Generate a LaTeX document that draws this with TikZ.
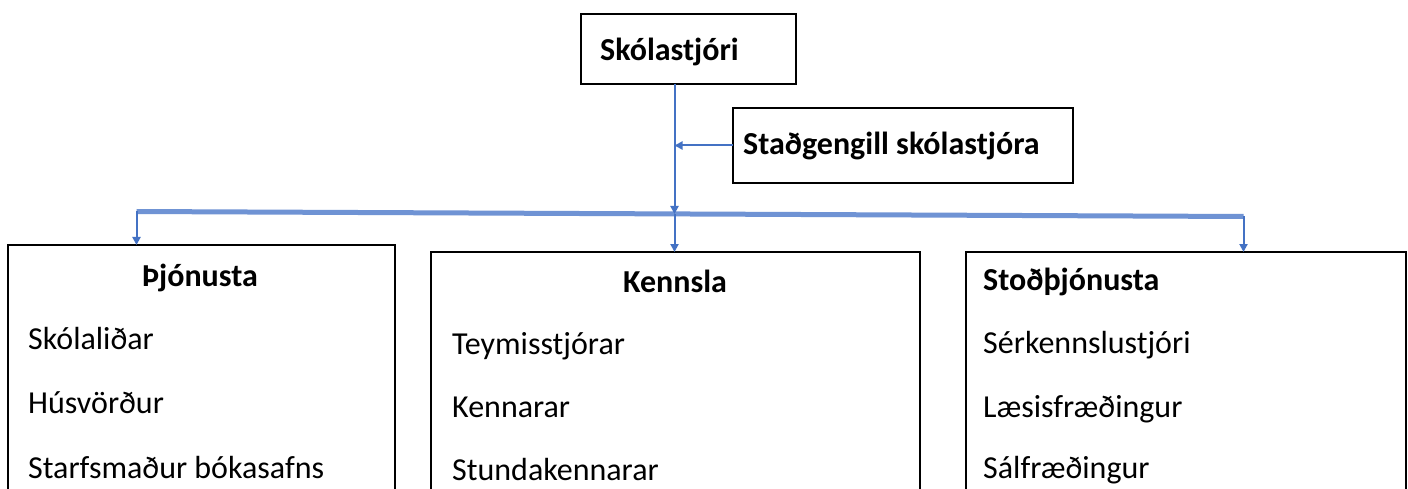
\documentclass[tikz,border=0pt]{standalone}
\usepackage{fontspec}
\setmainfont{Carlito}
\usetikzlibrary{arrows.meta}
\definecolor{connc}{HTML}{4472C4}
\definecolor{barc}{HTML}{6F93D4}
\begin{document}
\begin{tikzpicture}[x=1pt,y=-1pt,
  box/.style={draw=black, line width=1.6pt, rectangle, anchor=north west, inner sep=0pt, outer sep=0pt},
  title/.style={font=\fontsize{32}{38}\selectfont\bfseries, inner sep=0pt},
  item/.style={font=\fontsize{32}{38}\selectfont, anchor=base west, inner sep=0pt},
  conn/.style={draw=connc, line width=2pt, -{Triangle[length=8pt,width=8pt]}},
]
\clip (0,0) rectangle (1408,489);
\fill[white] (0,0) rectangle (1408,489);
% boxes
\node[box, minimum width=215pt, minimum height=70pt] (sko) at (581,14) {};
\node[box, minimum width=340pt, minimum height=75pt] (stad) at (733,108) {};
\node[box, minimum width=387pt, minimum height=300pt] (thj) at (8,245) {};
\node[box, minimum width=489pt, minimum height=300pt] (ken) at (431,252) {};
\node[box, minimum width=440pt, minimum height=300pt] (sto) at (966,252) {};
% texts
\node[title, anchor=base west] (skot) at (600,61) {Skólastjóri};
\node[title, anchor=base west] (stadt) at (743,155) {Staðgengill skólastjóra};
\node[title, anchor=base] (thjt) at (200,286) {Þjónusta};
\node[item] (thj1) at (28,349) {Skólaliðar};
\node[item] (thj2) at (28,413) {Húsvörður};
\node[item] (thj3) at (28,478) {Starfsmaður bókasafns};
\node[title, anchor=base] (kent) at (675,292) {Kennsla};
\node[item] (ken1) at (452,354) {Teymisstjórar};
\node[item] (ken2) at (452,417) {Kennarar};
\node[item] (ken3) at (452,480) {Stundakennarar};
\node[title, anchor=base west] (stot) at (983,290) {Stoðþjónusta};
\node[item] (sto1) at (983,353) {Sérkennslustjóri};
\node[item] (sto2) at (983,417) {Læsisfræðingur};
\node[item] (sto3) at (983,478) {Sálfræðingur};
% bar
\coordinate (bl) at (136.5,211.5);
\coordinate (br) at (1243.5,216.5);
\coordinate (bm) at (674.5,214);
\draw[barc, line width=5pt] (bl) -- (br);
% connectors
\draw[conn] (bm |- sko.south) -- (bm);
\draw[conn] (bm) -- (bm |- ken.north);
\draw[conn] (stad.west) -- (stad.west -| bm);
\draw[conn] (bl) -- (bl |- thj.north);
\draw[conn] (br) -- (br |- sto.north);
\end{tikzpicture}
\end{document}
